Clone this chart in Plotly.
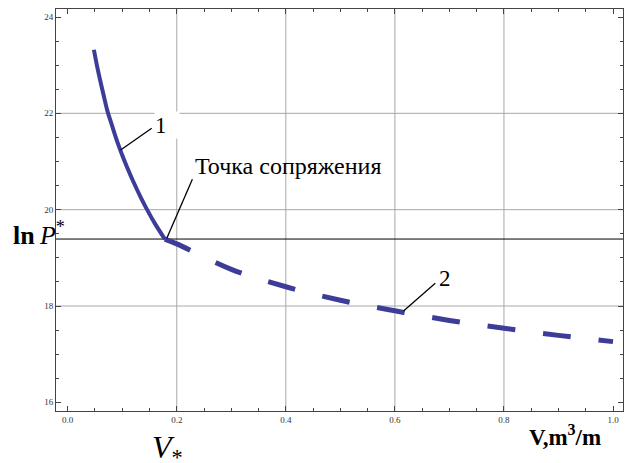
import plotly.graph_objects as go

# Branch 1: steep part of the curve, V below the junction point
v_branch1 = [0.048, 0.054, 0.060, 0.066, 0.073, 0.080, 0.090, 0.100,
             0.110, 0.120, 0.135, 0.147, 0.160, 0.178]
lnp_branch1 = [23.32, 22.97, 22.66, 22.37, 22.04, 21.79, 21.44, 21.13,
               20.85, 20.59, 20.23, 19.97, 19.71, 19.39]

# Branch 2: flat part of the curve, V from the junction point to 1.0
v_branch2 = [0.178, 0.20, 0.30, 0.40, 0.50, 0.60, 0.70, 0.80, 0.90, 1.00]
lnp_branch2 = [19.39, 19.29, 18.76, 18.40, 18.12, 17.90, 17.70, 17.54, 17.39, 17.26]

# Level of ln P* (junction pressure)
lnp_star = 19.39

# Interior grid lines
grid_x = [0.2, 0.4, 0.6, 0.8]
grid_y = [18, 20, 22]

x_ticks = [0.0, 0.2, 0.4, 0.6, 0.8, 1.0]
y_ticks = [16, 18, 20, 22, 24]

SERIF = "Liberation Serif"
CURVE = "rgb(61,61,153)"
FRAME = "#444444"
GRID = "#a8a8a8"

fig = go.Figure()

fig.add_trace(go.Scatter(
    x=v_branch1, y=lnp_branch1, mode="lines",
    line=dict(color=CURVE, width=4, shape="spline"),
    showlegend=False, hoverinfo="skip",
))
fig.add_trace(go.Scatter(
    x=v_branch2, y=lnp_branch2, mode="lines",
    line=dict(color=CURVE, width=5, shape="spline", dash="28px,28px"),
    showlegend=False, hoverinfo="skip",
))

shapes = []
for gx in grid_x:
    shapes.append(dict(type="line", xref="x", yref="paper", x0=gx, x1=gx, y0=0, y1=1,
                       line=dict(color=GRID, width=1), layer="below"))
for gy in grid_y:
    shapes.append(dict(type="line", xref="paper", yref="y", x0=0, x1=1, y0=gy, y1=gy,
                       line=dict(color=GRID, width=1), layer="below"))
# ln P* level line
shapes.append(dict(type="line", xref="paper", yref="y", x0=0, x1=1, y0=lnp_star, y1=lnp_star,
                   line=dict(color="black", width=1), layer="below"))

# leader lines for the labels
leaders = [
    ((0.097, 21.24), (0.154, 21.69)),
    ((0.1817, 19.405), (0.2286, 20.63)),
    ((0.6158, 17.894), (0.674, 18.47)),
]
for (xa, ya), (xb, yb) in leaders:
    shapes.append(dict(type="line", xref="x", yref="y", x0=xa, y0=ya, x1=xb, y1=yb,
                       line=dict(color="black", width=1.3)))

annotations = [
    dict(x=0.158, y=21.76, xref="x", yref="y", text="1", showarrow=False,
         font=dict(family=SERIF, size=23, color="black"), bgcolor="white",
         width=24, height=26, align="left", xanchor="left", yanchor="middle", borderpad=0),
    dict(x=0.2303, y=20.91, xref="x", yref="y", text="Точка сопряжения", showarrow=False,
         font=dict(family=SERIF, size=24, color="black"), xanchor="left", yanchor="middle"),
    dict(x=0.6923, y=18.57, xref="x", yref="y", text="2", showarrow=False,
         font=dict(family=SERIF, size=23, color="black"), xanchor="center", yanchor="middle"),
    dict(x=0, y=lnp_star, xref="paper", yref="y", text="<b>ln</b>\u2009<i>P</i><sup>*</sup>",
         showarrow=False, font=dict(family=SERIF, size=26, color="black"),
         xanchor="right", yanchor="middle", xshift=11, yshift=6),
    dict(x=0.9125, y=0, xref="x", yref="paper", text="<b>V,m<sup>3</sup>/m</b>",
         showarrow=False, font=dict(family=SERIF, size=23, color="black"),
         xanchor="center", yanchor="middle", yshift=-24),
    dict(x=0.183, y=0, xref="x", yref="paper", text="<i>V</i><sub>*</sub>",
         showarrow=False, font=dict(family=SERIF, size=32, color="black"),
         xanchor="center", yanchor="middle", yshift=-38),
]

axis_common = dict(
    showline=True, linecolor=FRAME, linewidth=1, mirror="ticks",
    ticks="inside", ticklen=5, tickwidth=1, tickcolor=FRAME,
    showgrid=False, zeroline=False,
    tickfont=dict(family=SERIF, size=9, color="#333333"),
)

fig.update_layout(
    width=627, height=463,
    margin=dict(l=56, r=4, t=9, b=52),
    paper_bgcolor="white", plot_bgcolor="white",
    shapes=shapes, annotations=annotations,
    xaxis=dict(range=[-0.0215, 1.0183], tickvals=x_ticks, tickformat=".1f",
               minor=dict(dtick=0.05, tick0=0, ticks="inside", ticklen=3, tickcolor=FRAME,
                          showgrid=False),
               **axis_common),
    yaxis=dict(range=[15.82, 24.166], tickvals=y_ticks,
               minor=dict(dtick=0.5, tick0=16, ticks="inside", ticklen=3, tickcolor=FRAME,
                          showgrid=False),
               **axis_common),
)

fig.write_html("out.html")
